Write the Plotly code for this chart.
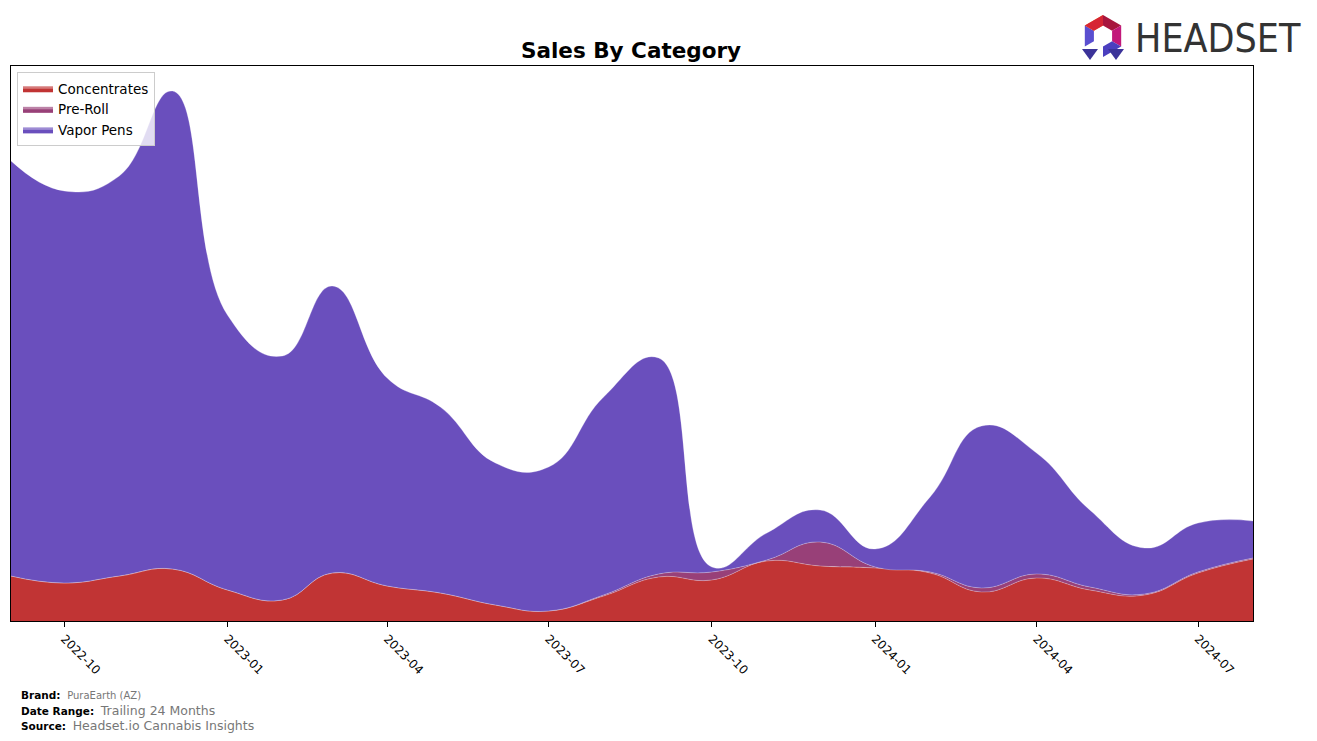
import math
import plotly.graph_objects as go

# ---------------- data ----------------
months = ["2022-09-01", "2022-10-01", "2022-11-01", "2022-12-01",
          "2023-01-01", "2023-02-01", "2023-03-01", "2023-04-01",
          "2023-05-01", "2023-06-01", "2023-07-01", "2023-08-01",
          "2023-09-01", "2023-10-01", "2023-11-01", "2023-12-01",
          "2024-01-01", "2024-02-01", "2024-03-01", "2024-04-01",
          "2024-05-01", "2024-06-01", "2024-07-01", "2024-08-01"]

concentrates = [45, 38, 45, 52, 31, 21, 48, 35, 28, 16, 10, 25,
                44, 41, 60, 55, 53, 48, 29, 43, 31, 26, 48, 62]
pre_roll = [0, 0, 0, 0, 0, 0, 0, 0, 0, 0, 0, 1,
            3, 8, 1, 24, 1, 1, 4, 4, 3, 1, 1, 1]
vapor_pens = [415, 392, 400, 478, 275, 244, 287, 208, 186, 142, 144, 198,
              216, 5, 27, 32, 18, 75, 162, 121, 77, 46, 49, 37]

tick_vals = ["2022-10-01", "2023-01-01", "2023-04-01", "2023-07-01",
             "2023-10-01", "2024-01-01", "2024-04-01", "2024-07-01"]
tick_text = ["2022-10", "2023-01", "2023-04", "2023-07",
             "2023-10", "2024-01", "2024-04", "2024-07"]

series = [("Concentrates", concentrates, "#C13434"),
          ("Pre-Roll", pre_roll, "#984078"),
          ("Vapor Pens", vapor_pens, "#6A4FBD")]

# ---------------- figure ----------------
W, H = 1317, 741
L, R, T, B = 11, 1253, 66, 621

fig = go.Figure()
for name, vals, col in series:
    fig.add_trace(go.Scatter(
        x=months, y=vals, name=name, mode="lines",
        stackgroup="one", fillcolor=col,
        line=dict(shape="spline", smoothing=1.3, width=0.8,
                  color="rgba(255,255,255,0.35)"),
        hoverinfo="x+y+name"))


def px(x):
    return (x - L) / (R - L)


def py(y):
    return (B - y) / (B - T)


# logo icon (decorative)
cx, cy, r = 1103, 36, 21
shapes = []
pts = [(cx + r * math.cos(math.radians(a)), cy - r * math.sin(math.radians(a)))
       for a in (90, 30, -30, -90, -150, 150)]
inner = [(cx + 0.5 * r * math.cos(math.radians(a)), cy - 0.5 * r * math.sin(math.radians(a)))
         for a in (90, 30, -30, -90, -150, 150)]
seg_cols = ["#A8163E", "#C2187A", "#4B3FBF", None, "#5A4FD0", "#F07A22"]
top_col = "#D62534"


def quad(a, b, c, d, col):
    return dict(type="path", xref="paper", yref="paper",
                path="M {} {} L {} {} L {} {} L {} {} Z".format(
                    px(a[0]), py(a[1]), px(b[0]), py(b[1]), px(c[0]), py(c[1]), px(d[0]), py(d[1])),
                fillcolor=col, line=dict(width=0), layer="above")


for i in range(6):
    col = seg_cols[i]
    if col is None:
        continue
    shapes.append(quad(pts[i], pts[(i + 1) % 6], inner[(i + 1) % 6], inner[i], col))
shapes.append(quad(pts[5], pts[0], inner[0], inner[5], top_col))
for lx in (1090, 1116):
    shapes.append(dict(type="path", xref="paper", yref="paper",
                       path="M {} {} L {} {} L {} {} Z".format(
                           px(lx - 8), py(49), px(lx + 8), py(49), px(lx), py(60)),
                       fillcolor="#3B3399", line=dict(width=0), layer="above"))

annotations = [
    dict(text="<b>Sales By Category</b>", x=px(631), y=py(50), xref="paper", yref="paper",
         showarrow=False, font=dict(family="DejaVu Sans", size=21.5, color="black"),
         xanchor="center", yanchor="middle"),
    dict(text="HEADSET", x=px(1133), y=py(38), xref="paper", yref="paper",
         showarrow=False, font=dict(family="DejaVu Sans Condensed, Liberation Sans Narrow", size=39, color="#333333"),
         xanchor="left", yanchor="middle"),
    dict(text="<b>Brand:</b>  <span style='color:#777;font-size:10px'>PuraEarth (AZ)</span>",
         x=px(19), y=py(695), xref="paper", yref="paper", showarrow=False,
         font=dict(family="DejaVu Sans", size=10.5, color="black"), xanchor="left", yanchor="middle"),
    dict(text="<b>Date Range:</b>  <span style='color:#777;font-size:12.5px'>Trailing 24 Months</span>",
         x=px(19), y=py(710), xref="paper", yref="paper", showarrow=False,
         font=dict(family="DejaVu Sans", size=10.5, color="black"), xanchor="left", yanchor="middle"),
    dict(text="<b>Source:</b>  <span style='color:#777;font-size:12.5px'>Headset.io Cannabis Insights</span>",
         x=px(19), y=py(725), xref="paper", yref="paper", showarrow=False,
         font=dict(family="DejaVu Sans", size=10.5, color="black"), xanchor="left", yanchor="middle"),
]

fig.update_layout(
    width=W, height=H,
    margin=dict(l=L, r=W - R, t=T, b=H - B, pad=0),
    paper_bgcolor="white", plot_bgcolor="white",
    font=dict(family="DejaVu Sans", size=12, color="black"),
    showlegend=True,
    legend=dict(x=px(17), y=py(72), xanchor="left", yanchor="top",
                traceorder="normal",
                bgcolor="rgba(255,255,255,0.8)", bordercolor="#CCCCCC", borderwidth=1,
                font=dict(family="DejaVu Sans", size=13.5, color="black"),
                tracegroupgap=0, itemsizing="constant"),
    xaxis=dict(type="date", range=[months[0], months[-1]],
               tickvals=tick_vals, ticktext=tick_text, tickangle=45,
               ticks="outside", ticklen=5, tickcolor="black", tickwidth=1,
               showline=True, linecolor="black", linewidth=1, mirror=True,
               showgrid=False, zeroline=False,
               tickfont=dict(family="DejaVu Sans", size=12, color="black")),
    yaxis=dict(range=[0, 555], showticklabels=False, ticks="",
               showline=True, linecolor="black", linewidth=1, mirror=True,
               showgrid=False, zeroline=False),
    shapes=shapes,
    annotations=annotations,
)

fig.write_html("out.html")
